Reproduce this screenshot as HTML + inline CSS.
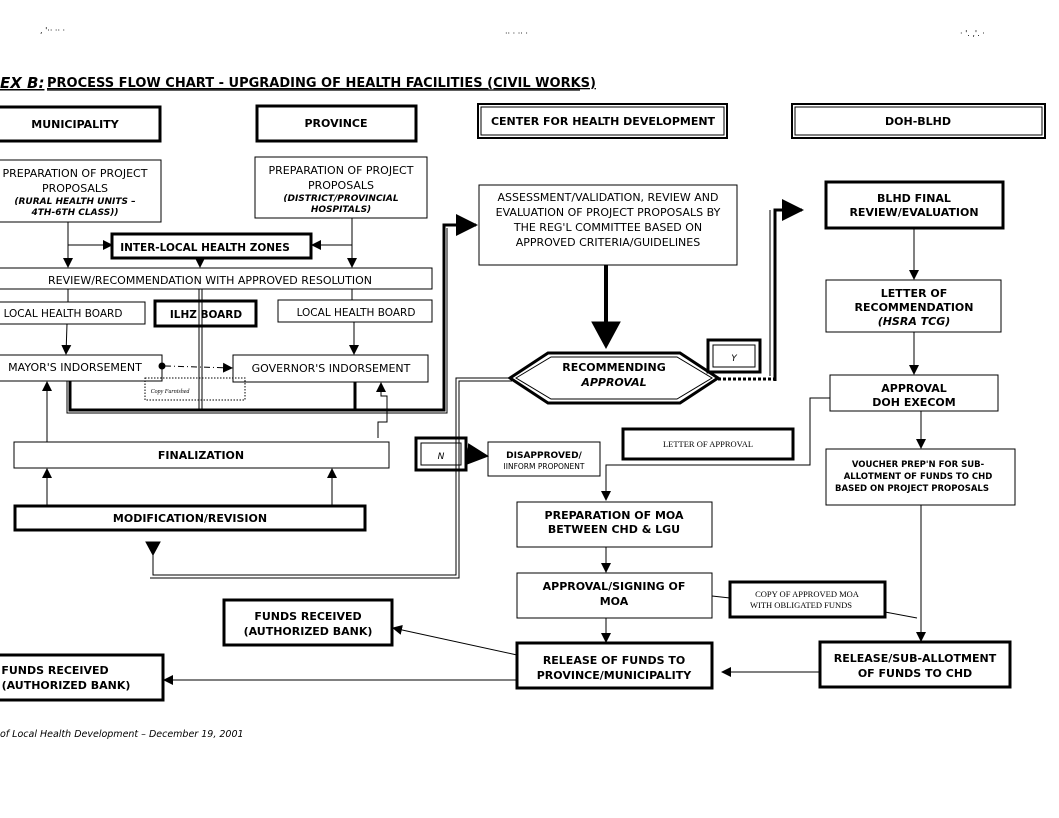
<!DOCTYPE html>
<html><head><meta charset="utf-8"><style>
body{margin:0;background:#fff}
svg{display:block;font-family:"DejaVu Sans","Liberation Sans",sans-serif}
.b{font-weight:bold}
</style></head><body>
<svg width="1059" height="818" viewBox="0 0 1059 818" xmlns="http://www.w3.org/2000/svg">
<defs>
<marker id="a" markerWidth="10" markerHeight="10" refX="9" refY="5" orient="auto" markerUnits="userSpaceOnUse"><path d="M0,0 L10,5 L0,10z" fill="#000"/></marker>
<marker id="A" markerWidth="22" markerHeight="22" refX="20" refY="11" orient="auto" markerUnits="userSpaceOnUse"><path d="M0,0 L22,11 L0,22z" fill="#000"/></marker>
</defs>
<g fill="none" stroke="#000">
<text x="40" y="33" font-size="8" fill="#000" stroke="none">, '·· ·· ·</text>
<text x="505" y="36" font-size="8" fill="#000" stroke="none">·· · ·· ·</text>
<text x="960" y="36" font-size="8" fill="#000" stroke="none">· '. ,'. ·</text>
<text x="0" y="88" font-size="15" class="b" font-style="italic" fill="#000" stroke="none" text-decoration="underline">EX B:</text>
<text x="47" y="87" font-size="13" class="b" fill="#000" stroke="none" text-decoration="underline">PROCESS FLOW CHART -  UPGRADING OF HEALTH FACILITIES (CIVIL WORKS)</text>
<line x1="47" y1="90" x2="580" y2="90" stroke-width="1.3"/>

<rect x="-2" y="107" width="162" height="34" stroke-width="3"/>
<rect x="257" y="106" width="159" height="35" stroke-width="3"/>
<rect x="478" y="104" width="249" height="34" stroke-width="2"/>
<rect x="481" y="107" width="243" height="28" stroke-width="1"/>
<rect x="792" y="104" width="253" height="34" stroke-width="2"/>
<rect x="795" y="107" width="247" height="28" stroke-width="1"/>

<rect x="-2" y="160" width="163" height="62"/>
<rect x="255" y="157" width="172" height="61"/>
<rect x="112" y="234" width="199" height="24" stroke-width="3"/>
<rect x="-2" y="268" width="434" height="21"/>
<rect x="-2" y="302" width="147" height="22"/>
<rect x="155" y="301" width="101" height="25" stroke-width="3"/>
<rect x="278" y="300" width="154" height="22"/>
<rect x="-2" y="355" width="164" height="26"/>
<rect x="233" y="355" width="195" height="27"/>
<rect x="145" y="378" width="100" height="22" stroke-dasharray="1.5 1.5"/>
<rect x="14" y="442" width="375" height="26"/>
<rect x="15" y="506" width="350" height="24" stroke-width="3"/>

<line x1="68" y1="222" x2="68" y2="267" marker-end="url(#a)"/>
<line x1="68" y1="245" x2="112" y2="245" marker-end="url(#a)"/>
<line x1="352" y1="218" x2="352" y2="267" marker-end="url(#a)"/>
<line x1="352" y1="245" x2="312" y2="245" marker-end="url(#a)"/>
<line x1="200" y1="258" x2="200" y2="267" marker-end="url(#a)"/>
<line x1="68" y1="289" x2="68" y2="302"/>
<line x1="352" y1="289" x2="352" y2="300"/>
<line x1="67" y1="324" x2="66" y2="354" marker-end="url(#a)"/>
<line x1="354" y1="322" x2="354" y2="354" marker-end="url(#a)"/>
<line x1="199" y1="289" x2="199" y2="410" stroke-width="1"/>
<line x1="202" y1="289" x2="202" y2="410" stroke-width="1"/>
<circle cx="162" cy="366" r="3" fill="#000"/>
<line x1="165" y1="366" x2="232" y2="368" stroke-dasharray="6 3 1 3" marker-end="url(#a)"/>
<line x1="162" y1="366" x2="162" y2="378"/>
<path d="M70,381 V410 H444 V225 H476" stroke-width="3" marker-end="url(#A)"/>
<path d="M67,381 V413 H447 V228" stroke-width="1"/>
<line x1="355" y1="382" x2="355" y2="410" stroke-width="3"/>
<path d="M378,438 V422 H387 V396 H381 V383" marker-end="url(#a)"/>
<line x1="47" y1="442" x2="47" y2="382" marker-end="url(#a)"/>
<line x1="47" y1="506" x2="47" y2="469" marker-end="url(#a)"/>
<line x1="332" y1="506" x2="332" y2="469" marker-end="url(#a)"/>
<path d="M512,378 H456 V575 H153 V542" stroke-width="1"/>
<path d="M512,381 H459 V578 H150" stroke-width="1"/>
<path d="M153,555 L146,542 L160,542z" fill="#000"/>

<rect x="479" y="185" width="258" height="80"/>
<line x1="606" y1="265" x2="606" y2="330" stroke-width="4"/>
<path d="M592,322 L620,322 L606,348z" fill="#000"/>
<polygon points="510,378 548,353 680,353 718,378 680,403 548,403" stroke-width="3"/>
<polygon points="516,378 551,357 677,357 712,378 677,399 551,399" stroke-width="1"/>
<rect x="708" y="340" width="52" height="32" stroke-width="3"/>
<rect x="713" y="345" width="42" height="22" stroke-width="1"/>
<line x1="718" y1="379" x2="776" y2="379" stroke-width="3" stroke-dasharray="3 2"/>
<path d="M775,381 V210 H802" stroke-width="3" marker-end="url(#A)"/>
<line x1="770" y1="210" x2="770" y2="376" stroke-width="1"/>
<rect x="416" y="438" width="50" height="32" stroke-width="3"/>
<rect x="421" y="443" width="40" height="22" stroke-width="1"/>
<line x1="467" y1="454" x2="487" y2="456" marker-end="url(#A)"/>
<rect x="488" y="442" width="112" height="34"/>
<rect x="623" y="429" width="170" height="30" stroke-width="3"/>
<path d="M830,398 H810 V465 H606 V500" marker-end="url(#a)"/>
<rect x="517" y="502" width="195" height="45"/>
<line x1="606" y1="547" x2="606" y2="572" marker-end="url(#a)"/>
<rect x="517" y="573" width="195" height="45"/>
<line x1="606" y1="618" x2="606" y2="642" marker-end="url(#a)"/>
<rect x="517" y="643" width="195" height="45" stroke-width="3"/>
<line x1="712" y1="596" x2="730" y2="598"/>
<line x1="885" y1="612" x2="917" y2="618"/>
<rect x="730" y="582" width="155" height="35" stroke-width="3" fill="#fff"/>
<line x1="517" y1="655" x2="393" y2="628" marker-end="url(#a)"/>
<rect x="224" y="600" width="168" height="45" stroke-width="3"/>
<line x1="517" y1="680" x2="164" y2="680" marker-end="url(#a)"/>
<rect x="-2" y="655" width="165" height="45" stroke-width="3"/>

<rect x="826" y="182" width="177" height="46" stroke-width="3"/>
<line x1="914" y1="228" x2="914" y2="279" marker-end="url(#a)"/>
<rect x="826" y="280" width="175" height="52"/>
<line x1="914" y1="332" x2="914" y2="374" marker-end="url(#a)"/>
<rect x="830" y="375" width="168" height="36"/>
<line x1="921" y1="411" x2="921" y2="448" marker-end="url(#a)"/>
<rect x="826" y="449" width="189" height="56"/>
<line x1="921" y1="505" x2="921" y2="641" marker-end="url(#a)"/>
<rect x="820" y="642" width="190" height="45" stroke-width="3"/>
<line x1="820" y1="672" x2="722" y2="672" marker-end="url(#a)"/>
</g>

<g fill="#000" font-size="11" text-anchor="middle">
<text x="75" y="128" class="b">MUNICIPALITY</text>
<text x="336" y="127" class="b">PROVINCE</text>
<text x="603" y="125" class="b">CENTER FOR HEALTH DEVELOPMENT</text>
<text x="918" y="125" class="b">DOH-BLHD</text>
<text x="75" y="177">PREPARATION OF PROJECT</text>
<text x="75" y="192">PROPOSALS</text>
<text x="75" y="204" font-size="9" class="b" font-style="italic">(RURAL HEALTH UNITS –</text>
<text x="75" y="215" font-size="9" class="b" font-style="italic">4TH-6TH CLASS))</text>
<text x="341" y="174">PREPARATION OF PROJECT</text>
<text x="341" y="189">PROPOSALS</text>
<text x="341" y="201" font-size="9" class="b" font-style="italic">(DISTRICT/PROVINCIAL</text>
<text x="341" y="212" font-size="9" class="b" font-style="italic">HOSPITALS)</text>
<text x="205" y="251" font-size="10.5" class="b">INTER-LOCAL HEALTH ZONES</text>
<text x="210" y="284">REVIEW/RECOMMENDATION WITH APPROVED RESOLUTION</text>
<text x="63" y="317" font-size="10.5">LOCAL HEALTH BOARD</text>
<text x="206" y="318" font-size="10.5" class="b">ILHZ BOARD</text>
<text x="356" y="316" font-size="10.5">LOCAL HEALTH BOARD</text>
<text x="75" y="371">MAYOR'S INDORSEMENT</text>
<text x="331" y="372">GOVERNOR'S INDORSEMENT</text>
<text x="170" y="393" font-size="6" font-style="italic" font-family="Liberation Serif">Copy Furnished</text>
<text x="201" y="459" class="b">FINALIZATION</text>
<text x="190" y="522" class="b">MODIFICATION/REVISION</text>
<text x="608" y="201">ASSESSMENT/VALIDATION, REVIEW AND</text>
<text x="608" y="216">EVALUATION OF PROJECT PROPOSALS BY</text>
<text x="608" y="231">THE REG'L COMMITTEE BASED ON</text>
<text x="608" y="246">APPROVED CRITERIA/GUIDELINES</text>
<text x="614" y="371" class="b">RECOMMENDING</text>
<text x="614" y="386" class="b" font-style="italic">APPROVAL</text>
<text x="734" y="361" font-size="9" font-style="italic">Y</text>
<text x="441" y="459" font-size="9" font-style="italic">N</text>
<text x="544" y="458" font-size="9" class="b">DISAPPROVED/</text>
<text x="544" y="469" font-size="7.5">IINFORM  PROPONENT</text>
<text x="708" y="447" font-size="8.5" font-family="Liberation Serif">LETTER OF APPROVAL</text>
<text x="614" y="519" class="b">PREPARATION OF MOA</text>
<text x="614" y="533" class="b">BETWEEN CHD &amp; LGU</text>
<text x="614" y="590" class="b">APPROVAL/SIGNING OF</text>
<text x="614" y="605" class="b">MOA</text>
<text x="614" y="664" class="b">RELEASE OF FUNDS TO</text>
<text x="614" y="679" class="b">PROVINCE/MUNICIPALITY</text>
<text x="807" y="597" font-size="8.5" font-family="Liberation Serif">COPY OF APPROVED MOA</text>
<text x="801" y="608" font-size="8.5" font-family="Liberation Serif">WITH OBLIGATED FUNDS</text>
<text x="308" y="620" class="b">FUNDS RECEIVED</text>
<text x="308" y="635" class="b">(AUTHORIZED BANK)</text>
<text x="55" y="674" class="b">FUNDS RECEIVED</text>
<text x="66" y="689" class="b">(AUTHORIZED BANK)</text>
<text x="914" y="202" class="b">BLHD FINAL</text>
<text x="914" y="216" class="b">REVIEW/EVALUATION</text>
<text x="914" y="297" class="b">LETTER OF</text>
<text x="914" y="311" class="b">RECOMMENDATION</text>
<text x="914" y="325" class="b" font-style="italic">(HSRA TCG)</text>
<text x="914" y="392" class="b">APPROVAL</text>
<text x="914" y="406" class="b">DOH  EXECOM</text>
<text x="918" y="467" font-size="8.5" class="b">VOUCHER  PREP'N  FOR  SUB-</text>
<text x="918" y="479" font-size="8.5" class="b">ALLOTMENT  OF  FUNDS  TO  CHD</text>
<text x="912" y="491" font-size="8.5" class="b">BASED ON PROJECT PROPOSALS</text>
<text x="915" y="662" class="b">RELEASE/SUB-ALLOTMENT</text>
<text x="915" y="677" class="b">OF FUNDS TO CHD</text>
<text x="0" y="737" font-size="9.5" font-style="italic" text-anchor="start">of Local Health Development – December 19, 2001</text>
</g>
</svg>
</body></html>
